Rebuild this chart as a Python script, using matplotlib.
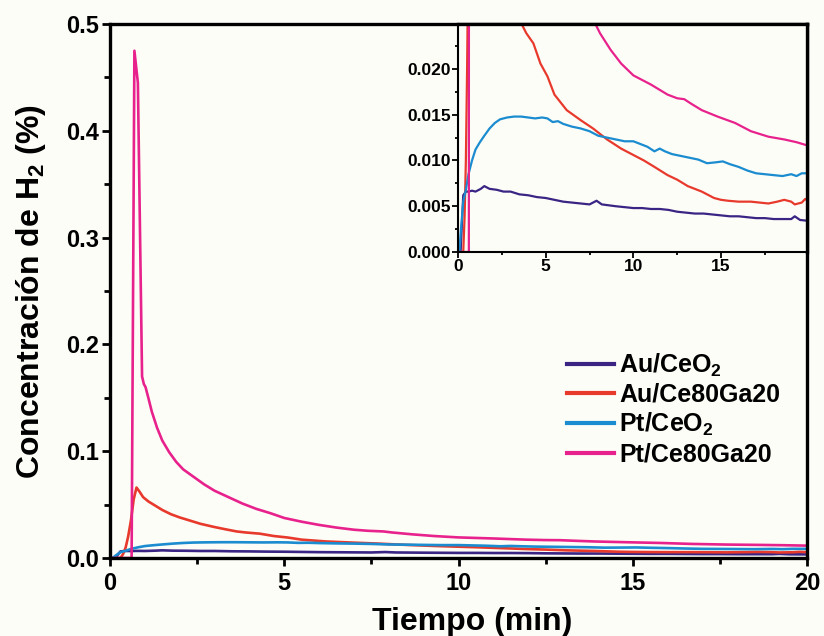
import matplotlib.pyplot as plt
import matplotlib.ticker as mticker

plt.rcParams['font.family'] = ['Liberation Sans', 'DejaVu Sans']
plt.rcParams['font.weight'] = 'bold'
plt.rcParams['mathtext.fontset'] = 'custom'
plt.rcParams['mathtext.rm'] = 'Liberation Sans:bold'
plt.rcParams['mathtext.default'] = 'rm'

# Au/CeO2
t_au_ceo2 = [0, 0.15, 0.3, 0.45, 0.6, 0.8, 1.0, 1.3, 1.5, 1.8, 2.2, 2.6, 3.0, 3.5, 4.0, 4.5,
             5.0, 5.5, 6.0, 6.5, 7.0, 7.5, 7.9, 8.2, 8.6, 9.0, 9.5, 10.0, 10.5, 11.0, 11.5,
             12.0, 12.5, 13.0, 13.5, 14.0, 14.5, 15.0, 15.5, 16.0, 16.5, 17.0, 17.5, 18.0,
             18.5, 19.0, 19.2, 19.5, 20.0]
c_au_ceo2 = [0, 0, 0.0062, 0.0066, 0.0066, 0.0067, 0.0066, 0.0069, 0.0072, 0.0069, 0.0068,
             0.0066, 0.0066, 0.0063, 0.0062, 0.0060, 0.0059, 0.0057, 0.0055, 0.0054, 0.0053,
             0.0052, 0.0056, 0.0052, 0.0051, 0.0050, 0.0049, 0.0048, 0.0048, 0.0047, 0.0047,
             0.0046, 0.0044, 0.0043, 0.0042, 0.0042, 0.0041, 0.0040, 0.0039, 0.0039, 0.0038,
             0.0037, 0.0037, 0.0036, 0.0036, 0.0036, 0.0039, 0.0035, 0.0034]

# Au/Ce80Ga20
t_au_cega = [0, 0.3, 0.38, 0.45, 0.52, 0.6, 0.68, 0.76, 0.85, 0.95, 1.1, 1.3, 1.5, 1.75, 2.0,
             2.3, 2.6, 3.0, 3.3, 3.63, 3.9, 4.3, 4.7, 5.1, 5.5, 6.2, 7.0, 7.7, 8.5, 9.3, 10.0,
             10.6, 11.2, 11.95, 12.5, 13.1, 13.9, 14.6, 15.0, 15.4, 16.0, 16.7, 17.2, 17.7,
             18.2, 18.6, 19.0, 19.2, 19.6, 19.8, 20.0]
c_au_cega = [0, 0, 0.004, 0.010, 0.020, 0.035, 0.055, 0.066, 0.062, 0.057, 0.053, 0.049, 0.045,
             0.041, 0.038, 0.035, 0.032, 0.029, 0.027, 0.0249, 0.0239, 0.0228, 0.0206, 0.0192,
             0.0172, 0.0155, 0.0144, 0.0135, 0.0123, 0.0113, 0.0106, 0.0100, 0.0093, 0.0084,
             0.0079, 0.0072, 0.0066, 0.0059, 0.0057, 0.0056, 0.0055, 0.0055, 0.0054, 0.0053,
             0.0055, 0.0057, 0.0055, 0.0052, 0.0054, 0.0058, 0.0055]

# Pt/CeO2
t_pt_ceo2 = [0, 0.08, 0.15, 0.3, 0.45, 0.6, 0.8, 1.0, 1.25, 1.5, 1.8, 2.1, 2.4, 2.8, 3.2, 3.6,
             4.0, 4.4, 4.8, 5.1, 5.4, 5.7, 6.0, 6.5, 7.0, 7.5, 8.0, 8.5, 9.0, 9.5, 10.0, 10.4,
             10.8, 11.2, 11.5, 11.8, 12.2, 12.7, 13.2, 13.7, 14.2, 14.7, 15.1, 15.5, 16.0,
             16.5, 17.0, 17.5, 18.0, 18.5, 19.0, 19.3, 19.6, 20.0]
c_pt_ceo2 = [0, 0, 0.002, 0.0055, 0.0068, 0.0085, 0.0100, 0.0112, 0.0120, 0.0127, 0.0135,
             0.0141, 0.0145, 0.0147, 0.0148, 0.0148, 0.0147, 0.0146, 0.0147, 0.0146, 0.0142,
             0.0143, 0.0140, 0.0137, 0.0135, 0.0132, 0.0127, 0.0125, 0.0123, 0.0121, 0.0121,
             0.0118, 0.0115, 0.0110, 0.0113, 0.0110, 0.0107, 0.0105, 0.0103, 0.0101, 0.0097,
             0.0098, 0.0099, 0.0096, 0.0093, 0.0089, 0.0086, 0.0085, 0.0084, 0.0083, 0.0085,
             0.0083, 0.0086, 0.0086]

# Pt/Ce80Ga20
t_pt_cega = [0, 0.5, 0.62, 0.70, 0.80, 0.92, 0.97, 1.02, 1.1, 1.2, 1.35, 1.5, 1.7, 1.9, 2.1,
             2.4, 2.7, 3.0, 3.4, 3.8, 4.2, 4.6, 5.0, 5.5, 6.0, 6.5, 7.0, 7.4, 7.84, 8.1, 8.7,
             9.3, 10.0, 11.0, 11.95, 12.5, 12.9, 13.3, 13.9, 14.8, 15.8, 16.7, 17.7, 18.6,
             19.3, 20.0]
c_pt_cega = [0, 0, 0, 0.475, 0.445, 0.170, 0.163, 0.160, 0.150, 0.137, 0.122, 0.110, 0.099,
             0.090, 0.083, 0.076, 0.069, 0.063, 0.057, 0.051, 0.046, 0.042, 0.0375, 0.034,
             0.031, 0.0285, 0.0265, 0.0255, 0.0249, 0.0239, 0.0221, 0.0206, 0.0193, 0.0183,
             0.0172, 0.0168, 0.0167, 0.0162, 0.0155, 0.0148, 0.0141, 0.0132, 0.0126, 0.0123,
             0.0120, 0.0116]

series = [
    (t_au_ceo2, c_au_ceo2, 'Au/CeO$_2$', '#3b2584'),
    (t_au_cega, c_au_cega, 'Au/Ce80Ga20', '#e83a2c'),
    (t_pt_ceo2, c_pt_ceo2, 'Pt/CeO$_2$', '#1b8ccf'),
    (t_pt_cega, c_pt_cega, 'Pt/Ce80Ga20', '#e8228c'),
]

bg = '#fdfdf8'
fig = plt.figure(figsize=(8.24, 6.36), dpi=100, facecolor=bg)
ax = fig.add_axes([0.1335, 0.1226, 0.8459, 0.8396], facecolor=bg)

for t, c, name, col in series:
    ax.plot(t, c, color=col, lw=1.9, label=name)

ax.set_xlim(0, 20)
ax.set_ylim(0, 0.5)
ax.xaxis.set_major_locator(mticker.MultipleLocator(5))
ax.xaxis.set_minor_locator(mticker.MultipleLocator(2.5))
ax.yaxis.set_major_locator(mticker.MultipleLocator(0.1))
ax.yaxis.set_minor_locator(mticker.MultipleLocator(0.05))
ax.xaxis.set_major_formatter(mticker.FormatStrFormatter('%g'))
ax.yaxis.set_major_formatter(mticker.FormatStrFormatter('%.1f'))
ax.tick_params(which='major', direction='out', length=6, width=2, labelsize=17, pad=2)
ax.tick_params(axis='x', which='major', pad=4)
ax.tick_params(which='minor', direction='out', length=4, width=2)
for s in ax.spines.values():
    s.set_linewidth(2.4)

ax.set_xlabel('Tiempo (min)', fontsize=23, fontweight='bold', labelpad=9)
ax.xaxis.label.set_x(0.52)
ax.set_ylabel('Concentración de H$_2$ (%)', fontsize=23, fontweight='bold', labelpad=13)

leg = ax.legend(loc='upper left', bbox_to_anchor=(0.6557, 0.387), frameon=False,
                fontsize=18, handlelength=1.88, handletextpad=0.2, labelspacing=0.17,
                borderpad=0, borderaxespad=0)
for h in leg.get_lines():
    h.set_linewidth(3)

# inset
axi = fig.add_axes([0.5558, 0.6038, 0.4236, 0.3582], facecolor=bg)
for t, c, name, col in series:
    axi.plot(t, c, color=col, lw=1.6)
axi.set_xlim(0, 19.9)
axi.set_ylim(0, 0.0249)
axi.xaxis.set_major_locator(mticker.MultipleLocator(5))
axi.xaxis.set_minor_locator(mticker.MultipleLocator(2.5))
axi.yaxis.set_major_locator(mticker.MultipleLocator(0.005))
axi.yaxis.set_minor_locator(mticker.MultipleLocator(0.0025))
axi.yaxis.set_major_formatter(mticker.FormatStrFormatter('%.3f'))
axi.tick_params(which='major', direction='out', length=4, width=1.3, labelsize=12.5, pad=1)
axi.tick_params(which='minor', direction='out', length=2.5, width=1.3)
axi.spines['left'].set_linewidth(1.5)
axi.spines['bottom'].set_linewidth(1.5)
axi.spines['top'].set_linewidth(2.4)
axi.spines['right'].set_linewidth(2.4)

fig.savefig('out.png', dpi=100, facecolor=bg)
